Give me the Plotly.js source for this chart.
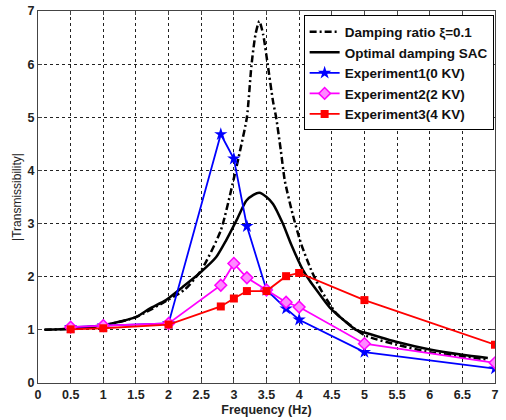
<!DOCTYPE html>
<html>
<head>
<meta charset="utf-8">
<script src="https://cdn.plot.ly/plotly-3.0.1.min.js"></script>
<style>html,body{margin:0;padding:0;background:#fff;}#chart{width:506px;height:420px;}</style>
</head>
<body>
<div id="chart"></div>
<script>
// Theoretical curve: damping ratio 0.1 (dash-dot)
var ddX = [0.1, 0.5, 1.0, 1.5, 2.0, 2.25, 2.5, 2.8, 3.0, 3.1, 3.2, 3.27, 3.33, 3.39, 3.45, 3.52, 3.6, 3.65, 3.72, 3.78, 3.9, 4.03, 4.2, 4.34, 4.57, 5.0, 5.5, 6.0, 6.5, 6.89];
var ddY = [1.0, 1.02, 1.08, 1.24, 1.57, 1.76, 2.12, 2.87, 3.85, 4.4, 5.0, 5.98, 6.55, 6.81, 6.55, 5.98, 5.3, 4.98, 4.37, 3.81, 3.18, 2.62, 2.08, 1.74, 1.31, 0.9, 0.72, 0.58, 0.5, 0.44];
// Optimal damping SAC (solid)
var sX = [0.1, 0.5, 1.0, 1.5, 1.71, 1.96, 2.22, 2.47, 2.73, 2.88, 3.04, 3.19, 3.3, 3.39, 3.5, 3.6, 3.75, 3.88, 4.06, 4.16, 4.26, 4.47, 4.87, 5.0, 5.5, 6.0, 6.5, 6.89];
var sY = [1.0, 1.02, 1.09, 1.24, 1.40, 1.56, 1.81, 2.06, 2.37, 2.68, 3.06, 3.43, 3.54, 3.58, 3.5, 3.37, 3.0, 2.6, 2.12, 1.93, 1.76, 1.42, 1.0, 0.95, 0.77, 0.63, 0.53, 0.47];
// Experiments
var expX = [0.5, 1, 2, 2.8, 3.0, 3.2, 3.5, 3.8, 4.0, 5.0, 7.0];
var exp1 = [1.05, 1.08, 1.12, 4.68, 4.22, 2.95, 1.75, 1.40, 1.19, 0.58, 0.27];
var exp2 = [1.05, 1.08, 1.12, 1.84, 2.25, 1.98, 1.75, 1.52, 1.43, 0.74, 0.38];
var exp3 = [1.01, 1.03, 1.10, 1.44, 1.59, 1.73, 1.73, 2.01, 2.07, 1.56, 0.72];
var names = ['Damping ratio \u03BE=0.1', 'Optimal damping SAC', 'Experiment1(0 KV)', 'Experiment2(2 KV)', 'Experiment3(4 KV)'];
var xTicks = [0, 0.5, 1, 1.5, 2, 2.5, 3, 3.5, 4, 4.5, 5, 5.5, 6, 6.5, 7];
var yTicks = [0, 1, 2, 3, 4, 5, 6, 7];

var traces = [
  {x: ddX, y: ddY, name: names[0], mode: 'lines', line: {color: '#000', width: 2.5, dash: '7px,3px,2px,3px', shape: 'spline', smoothing: 0.6}},
  {x: sX, y: sY, name: names[1], mode: 'lines', line: {color: '#000', width: 2.5, shape: 'spline', smoothing: 0.6}},
  {x: expX, y: exp1, name: names[2], mode: 'lines+markers', line: {color: '#0000ff', width: 1.8}, marker: {symbol: 'star', size: 10, color: '#0000ff'}},
  {x: expX, y: exp2, name: names[3], mode: 'lines+markers', line: {color: '#ff00ff', width: 1.8}, marker: {symbol: 'diamond', size: 9, color: '#ff88ff', line: {color: '#ff00ff', width: 1.5}}},
  {x: expX, y: exp3, name: names[4], mode: 'lines+markers', line: {color: '#ff0000', width: 1.8}, marker: {symbol: 'square', size: 8, color: '#ff0000'}}
];

var axisCommon = {
  showline: true, linecolor: '#444', linewidth: 1, mirror: 'ticks',
  ticks: 'inside', ticklen: 4, tickcolor: '#444',
  showgrid: true, gridcolor: '#222', gridwidth: 1, griddash: 'dot',
  zeroline: false,
  tickfont: {family: 'Liberation Sans, Arial, sans-serif', size: 12.5, color: '#222', weight: 'bold'}
};

var layout = {
  width: 506, height: 420,
  margin: {l: 38, r: 11, t: 11, b: 37},
  paper_bgcolor: '#fff', plot_bgcolor: '#fff',
  font: {family: 'Liberation Sans, Arial, sans-serif', color: '#222'},
  showlegend: true,
  legend: {
    x: 0.997, y: 0.988, xanchor: 'right', yanchor: 'top',
    bgcolor: '#fff', bordercolor: '#000', borderwidth: 1,
    font: {size: 13.5, weight: 'bold', color: '#111'},
    itemwidth: 30, tracegroupgap: 0
  },
  xaxis: Object.assign({}, axisCommon, {
    range: [0, 7], tickvals: xTicks, ticktext: xTicks.map(String),
    title: {text: '<b>Frequency (Hz)</b>', font: {size: 12.5, color: '#222'}, standoff: 4}
  }),
  yaxis: Object.assign({}, axisCommon, {
    range: [0, 7], tickvals: yTicks, ticktext: yTicks.map(String),
    title: {text: '|Transmissibility|', font: {size: 12, color: '#222'}, standoff: 3}
  })
};

Plotly.newPlot('chart', traces, layout, {displayModeBar: false, staticPlot: true});
</script>
</body>
</html>
